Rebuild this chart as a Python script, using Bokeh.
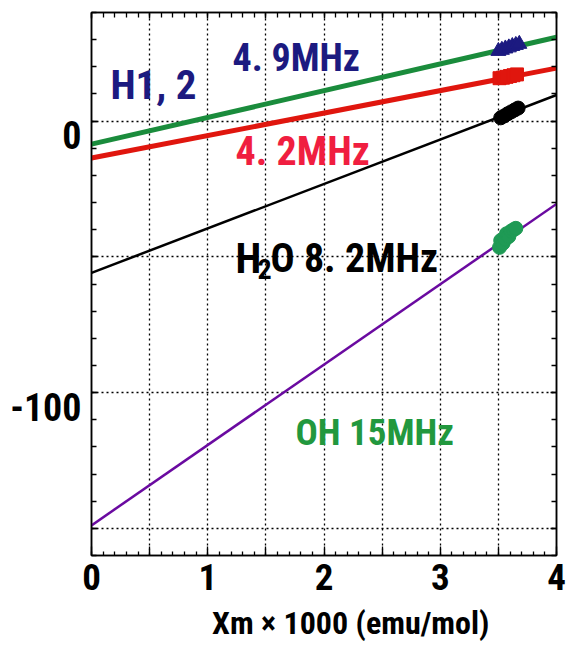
from bokeh.plotting import figure
from bokeh.models import Range1d, LinearAxis, FixedTicker, Label
from bokeh.embed import file_html
from bokeh.resources import INLINE

# ---------------- data ----------------
x_ends = [0.0, 4.0]
fit_h12_49 = [-8.5, 30.9]      # green line
fit_h12_42 = [-13.6, 19.5]     # red line
fit_h2o = [-55.9, 9.6]         # black line
fit_oh = [-148.9, -30.5]       # purple line

tri_x = [3.50, 3.53, 3.56, 3.59, 3.62, 3.65, 3.68]
tri_y = [25.8, 26.2, 26.7, 27.1, 27.6, 28.0, 28.4]

sq_x = [3.51, 3.54, 3.57, 3.60, 3.63, 3.66]
sq_y = [15.8, 16.0, 16.3, 16.6, 16.9, 17.2]

h2o_x = [3.52, 3.55, 3.58, 3.61, 3.64, 3.67]
h2o_y = [1.2, 1.9, 2.7, 3.4, 4.1, 4.8]

oh_x = [3.51, 3.52, 3.54, 3.56, 3.57, 3.59, 3.61, 3.63, 3.65]
oh_y = [-46.5, -44.0, -45.0, -43.5, -41.5, -42.5, -40.5, -40.0, -39.5]

x_major = [0, 0.5, 1, 1.5, 2, 2.5, 3, 3.5, 4]
x_minor = [i / 10 for i in range(41)]
x_labels = {0: "0", 1: "1", 2: "2", 3: "3", 4: "4"}
x_title = "Xm × 1000 (emu/mol)"
x_title_pos = 2.23
x_grid = [0.5, 1, 1.5, 2, 2.5, 3, 3.5]
y_major = [-150, -100, -50, 0]
y_minor = list(range(-160, 41, 10))
y_grid = [-150, -100, -50, 0]
y_labels = {0: "0", -100: "-100"}

FONT = "Roboto Condensed, Liberation Sans Narrow, DejaVu Sans Condensed, Roboto"
NAVY = "#1c1a80"
GREEN = "#1a8c3c"
RED = "#e0160e"
PINK = "#f01e40"
PURPLE = "#6a0aa0"
OHGREEN = "#1f9a55"
OHTEXT = "#22983e"

p = figure(width=567, height=648, x_range=Range1d(0, 4), y_range=Range1d(-160, 40),
           output_backend="svg", toolbar_location=None,
           min_border_left=91, min_border_right=11, min_border_top=12, min_border_bottom=93)
p.outline_line_color = "black"
p.outline_line_width = 1.5
p.background_fill_color = "white"
p.border_fill_color = "white"
# shifted range so the y labels sit just below their ticks, as in the reference
p.extra_y_ranges = {"ylab": Range1d(-160 + 5.2, 40 + 5.2)}

# grids
p.xgrid.ticker = FixedTicker(ticks=x_grid)
p.ygrid.ticker = FixedTicker(ticks=y_grid)
for g in (p.xgrid, p.ygrid):
    g.grid_line_color = "black"
    g.grid_line_dash = "2 3"
    g.grid_line_width = 1.3

def style_ticks(ax, tin=6, mtin=5):
    ax.axis_line_color = "black"
    ax.axis_line_width = 1.5
    ax.major_tick_in = tin
    ax.major_tick_out = 0
    ax.minor_tick_in = mtin
    ax.minor_tick_out = 0
    ax.major_tick_line_width = 1.3
    ax.minor_tick_line_width = 1.3
    ax.major_tick_line_color = "black"
    ax.minor_tick_line_color = "black"

def hide_labels(ax):
    ax.major_label_text_font_size = "1px"
    ax.major_label_text_color = None
    ax.major_label_standoff = 0

def labels_only(ax):
    ax.axis_line_color = None
    ax.major_tick_line_color = None
    ax.minor_tick_line_color = None
    ax.major_tick_in = 0
    ax.major_tick_out = 0
    ax.minor_tick_in = 0
    ax.minor_tick_out = 0

# bottom axis (ticks + numbers)
xb = p.xaxis[0]
xb.ticker = FixedTicker(ticks=x_major, minor_ticks=x_minor)
xb.major_label_overrides = {t: x_labels.get(t, "") for t in x_major}
style_ticks(xb, 9, 4)
xb.major_label_text_font = FONT
xb.major_label_text_font_style = "bold"
xb.major_label_text_font_size = "37px"
xb.major_label_text_color = "black"
xb.major_label_standoff = 8

# bottom title (as a single tick label so it can sit off-centre like the reference)
xtitle = LinearAxis(ticker=FixedTicker(ticks=[x_title_pos], minor_ticks=[]))
labels_only(xtitle)
xtitle.major_label_overrides = {x_title_pos: x_title}
xtitle.major_label_text_font = FONT
xtitle.major_label_text_font_style = "bold"
xtitle.major_label_text_font_size = "32px"
xtitle.major_label_text_color = "black"
xtitle.major_label_text_line_height = 0.5
xtitle.major_label_standoff = 11
p.add_layout(xtitle, "below")

# left axis (ticks)
yl = p.yaxis[0]
yl.ticker = FixedTicker(ticks=y_major, minor_ticks=y_minor)
style_ticks(yl)
hide_labels(yl)

# left labels
ylab = LinearAxis(y_range_name="ylab", ticker=FixedTicker(ticks=list(y_labels.keys()), minor_ticks=[]))
labels_only(ylab)
ylab.major_label_overrides = dict(y_labels)
ylab.major_label_text_font = FONT
ylab.major_label_text_font_style = "bold"
ylab.major_label_text_font_size = "38px"
ylab.major_label_text_color = "black"
ylab.major_label_standoff = 10
p.add_layout(ylab, "left")

# top / right axes (ticks only)
xt = LinearAxis(ticker=FixedTicker(ticks=x_major, minor_ticks=x_minor))
style_ticks(xt)
hide_labels(xt)
p.add_layout(xt, "above")
yr = LinearAxis(ticker=FixedTicker(ticks=y_major, minor_ticks=y_minor))
style_ticks(yr)
hide_labels(yr)
p.add_layout(yr, "right")

# lines
p.line(x_ends, fit_h12_49, line_color=GREEN, line_width=5)
p.line(x_ends, fit_h12_42, line_color=RED, line_width=5)
p.line(x_ends, fit_h2o, line_color="black", line_width=2.5)
p.line(x_ends, fit_oh, line_color=PURPLE, line_width=2.5)

# points
p.scatter(tri_x, tri_y, marker="triangle", size=15, fill_color=NAVY, line_color=NAVY)
p.scatter(sq_x, sq_y, marker="square", size=13, fill_color=RED, line_color=RED)
p.scatter(h2o_x, h2o_y, marker="circle", size=14, fill_color="black", line_color="black")
p.scatter(oh_x, oh_y, marker="circle", size=14, fill_color=OHGREEN, line_color=OHGREEN)

def note(x, y, text, color, size, dx=0, dy=0):
    lift = round(0.34 * size)
    p.add_layout(Label(x=x, y=y, text=text, x_offset=dx, y_offset=dy + lift, text_align="left",
                       text_baseline="alphabetic", text_font=FONT, text_font_style="bold",
                       text_font_size=f"{size}px", text_color=color))

note(0.163, 8.1, "H1, 2", NAVY, 41)
note(1.213, 18.4, "4. 9MHz", NAVY, 38)
note(1.239, -16.5, "4. 2MHz", PINK, 40)
note(1.239, -55.9, "H", "black", 42)
note(1.239, -55.9, "2", "black", 28, dx=22, dy=-6)
note(1.239, -55.9, "O 8. 2MHz", "black", 40, dx=35)
note(1.755, -119.5, "OH 15MHz", OHTEXT, 37)

open("out.html", "w").write(file_html(p, INLINE))
